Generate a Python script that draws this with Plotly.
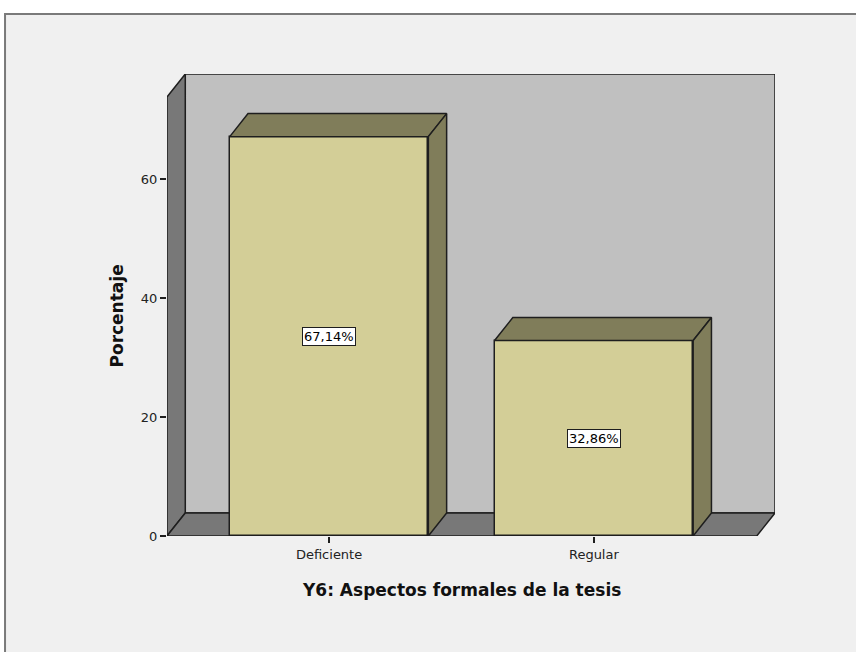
import plotly.graph_objects as go

categories = ["Deficiente", "Regular"]
percentages = [67.14, 32.86]
y_ticks = [0, 20, 40, 60]

# 3D frame of the SPSS-style chart, in axis units
AXIS_TOP = 73.8   # top of the front axis
DX = 0.069        # depth shift along x (category units)
DY = 3.87         # depth shift along y (percent units)
BAR_W = 0.75
X_LEFT = -0.612
X_RIGHT = 1.615

FRONT = "#D3CE97"
SHADE = "#807D5A"
WALL = "#C0C0C0"
FLOOR = "#787878"
EDGE = "#1E1E1E"
FONT = "DejaVu Sans, Verdana, sans-serif"

xs = list(range(len(categories)))

data = []
for x, v in zip(xs, percentages):
    x0, x1 = x - BAR_W / 2, x + BAR_W / 2
    # top face
    data.append(go.Scatter(
        x=[x0, x0 + DX, x1 + DX, x1, x0],
        y=[v, v + DY, v + DY, v, v],
        fill="toself", fillcolor=SHADE, mode="lines",
        line=dict(color=EDGE, width=1.5), hoverinfo="skip", showlegend=False,
    ))
    # side face
    data.append(go.Scatter(
        x=[x1, x1, x1 + DX, x1 + DX, x1],
        y=[0, v, v + DY, DY, 0],
        fill="toself", fillcolor=SHADE, mode="lines",
        line=dict(color=EDGE, width=1.5), hoverinfo="skip", showlegend=False,
    ))

data.append(go.Bar(
    x=xs, y=percentages, width=BAR_W,
    marker=dict(color=FRONT, line=dict(color=EDGE, width=1.5)),
    showlegend=False,
))

shapes = [
    # outer frame
    dict(type="rect", xref="paper", yref="paper", layer="below",
         x0=-0.2664, x1=1.2, y0=-0.3, y1=1.1299,
         fillcolor="#F0F0F0", line=dict(color="#7A7A7A", width=2)),
    # back wall
    dict(type="rect", xref="x", yref="y", layer="below",
         x0=X_LEFT + DX, x1=X_RIGHT + DX, y0=DY, y1=AXIS_TOP + DY,
         fillcolor=WALL, line=dict(color=EDGE, width=1.5)),
    # left wall
    dict(type="path", xref="x", yref="y", layer="below",
         path=f"M {X_LEFT},0 L {X_LEFT},{AXIS_TOP} L {X_LEFT + DX},{AXIS_TOP + DY} "
              f"L {X_LEFT + DX},{DY} Z",
         fillcolor=FLOOR, line=dict(color=EDGE, width=1.5)),
    # floor
    dict(type="path", xref="x", yref="y", layer="below",
         path=f"M {X_LEFT},0 L {X_LEFT + DX},{DY} L {X_RIGHT + DX},{DY} "
              f"L {X_RIGHT},0 Z",
         fillcolor=FLOOR, line=dict(color=EDGE, width=1.5)),
]

annotations = [
    dict(x=x, y=v / 2, xref="x", yref="y", text=f"{v:.2f}%".replace(".", ","),
         showarrow=False, bgcolor="white", bordercolor=EDGE, borderwidth=1,
         borderpad=1, font=dict(family=FONT, size=13, color="black"))
    for x, v in zip(xs, percentages)
]
annotations += [
    dict(x=0.5, y=0, xref="x", yref="paper", yshift=-54, showarrow=False,
         xanchor="center", yanchor="middle",
         text="<b>Y6: Aspectos formales de la tesis</b>",
         font=dict(family=FONT, size=17, color="#111")),
    dict(x=0, y=AXIS_TOP / 2, xref="paper", yref="y", xshift=-50, showarrow=False,
         xanchor="center", yanchor="middle",
         text="<b>Porcentaje</b>", textangle=-90,
         font=dict(family=FONT, size=17, color="#111")),
]

layout = go.Layout(
    width=856, height=652,
    margin=dict(l=167, r=81, t=74, b=116),
    paper_bgcolor="white", plot_bgcolor="rgba(0,0,0,0)",
    xaxis=dict(range=[X_LEFT, X_RIGHT + DX], tickvals=xs, ticktext=categories,
               ticks="outside", ticklen=6, tickcolor=EDGE, tickwidth=1.5,
               showgrid=False, zeroline=False, showline=False,
               tickfont=dict(family=FONT, size=13, color="#222")),
    yaxis=dict(range=[0, AXIS_TOP + DY], tickvals=y_ticks,
               ticks="outside", ticklen=6, tickcolor=EDGE, tickwidth=1.5,
               showgrid=False, zeroline=False, showline=False,
               tickfont=dict(family=FONT, size=13, color="#222")),
    shapes=shapes, annotations=annotations,
    hovermode=False, bargap=0,
)

fig = go.Figure(data, layout)
fig.write_html("out.html", config={"displayModeBar": False},
               post_script="document.body.style.margin='0';")
